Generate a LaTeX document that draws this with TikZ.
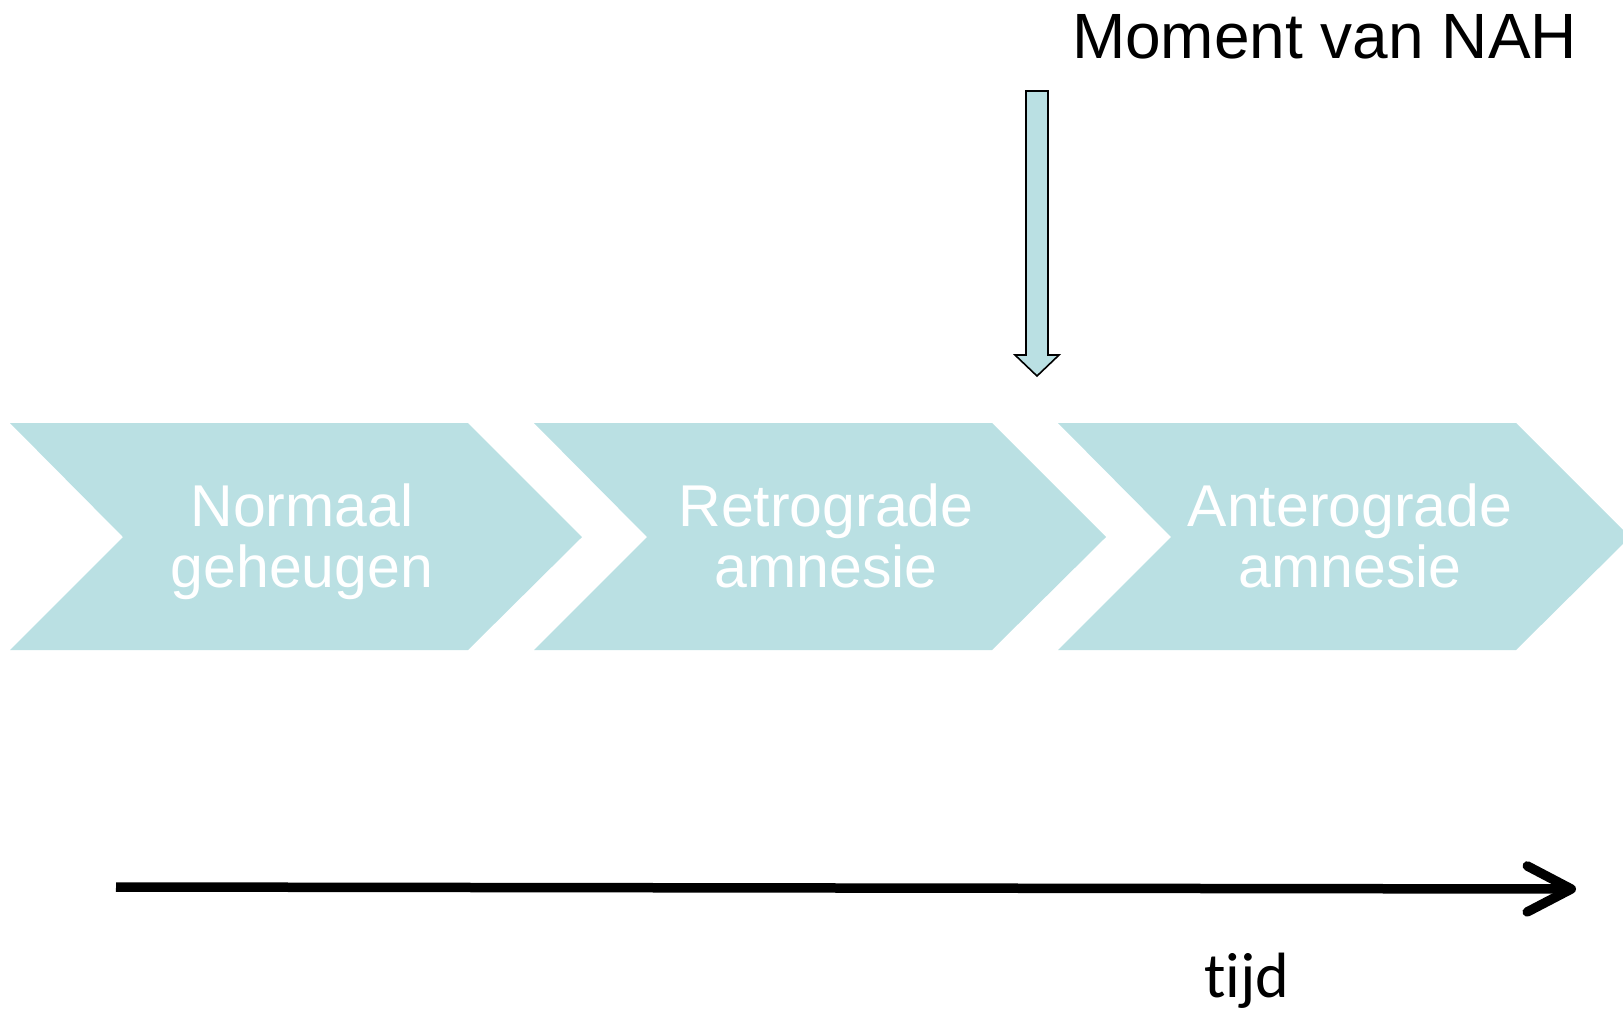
\documentclass[tikz,border=0pt]{standalone}
\usepackage{fontspec}
\setmainfont{Liberation Sans}
\newfontfamily\tijdfont[Ligatures=NoCommon]{Carlito}
\usetikzlibrary{arrows.meta}
\definecolor{cbae0e3}{RGB}{186,224,227}
\definecolor{cffffff}{RGB}{255,255,255}

\begin{document}
\begin{tikzpicture}[y=1pt, x=1pt, yscale=-1.000000, xscale=1.000000, inner sep=0pt, outer sep=0pt,
  chevtext/.style={text=cffffff,align=center,anchor=base,font=\fontsize{59}{61}\selectfont}]
\path[use as bounding box] (0,0) rectangle (1623,1013);
\clip (0,0) rectangle (1623,1013);
\begin{scope}
  % three chevrons
  \path[fill=cbae0e3] (10,423) -- (468,423) -- (582,537) -- (468,650) --
    (10,650) -- (123,537) -- cycle;
  \path[fill=cbae0e3] (534,423) -- (992,423) -- (1106,537) -- (992,650) --
    (534,650) -- (647,537) -- cycle;
  \path[fill=cbae0e3] (1058,423) -- (1516,423) -- (1630,537) -- (1516,650) --
    (1058,650) -- (1171,537) -- cycle;
  \node[chevtext] (normaal) at (302,587) {Normaal\\geheugen};
  \node[chevtext] (retrograde) at (826,587) {Retrograde\\amnesie};
  \node[chevtext] (anterograde) at (1350,587) {Anterograde\\amnesie};
\end{scope}

% moment arrow
\path[draw=black,fill=cbae0e3,line width=1.6pt,line join=miter] (1026,91) --
  (1048,91) -- (1048,355) -- (1059,355) -- (1037,376) -- (1015,355) --
  (1026,355) -- cycle;
\node[anchor=base west,font=\fontsize{64}{64}\selectfont] (moment) at (1072,58)
  {Moment van NAH};

% time axis
\coordinate (tstart) at (116,887);
\coordinate (tend) at (1576,889);
\draw[line width=9.5pt,-{Straight Barb[length=44pt,width=46pt,round]}]
  (tstart) -- (tend);
\node[anchor=base west,font=\tijdfont\fontsize{64}{64}\selectfont] (tijd) at (1204,997) {tijd};

\end{tikzpicture}
\end{document}
